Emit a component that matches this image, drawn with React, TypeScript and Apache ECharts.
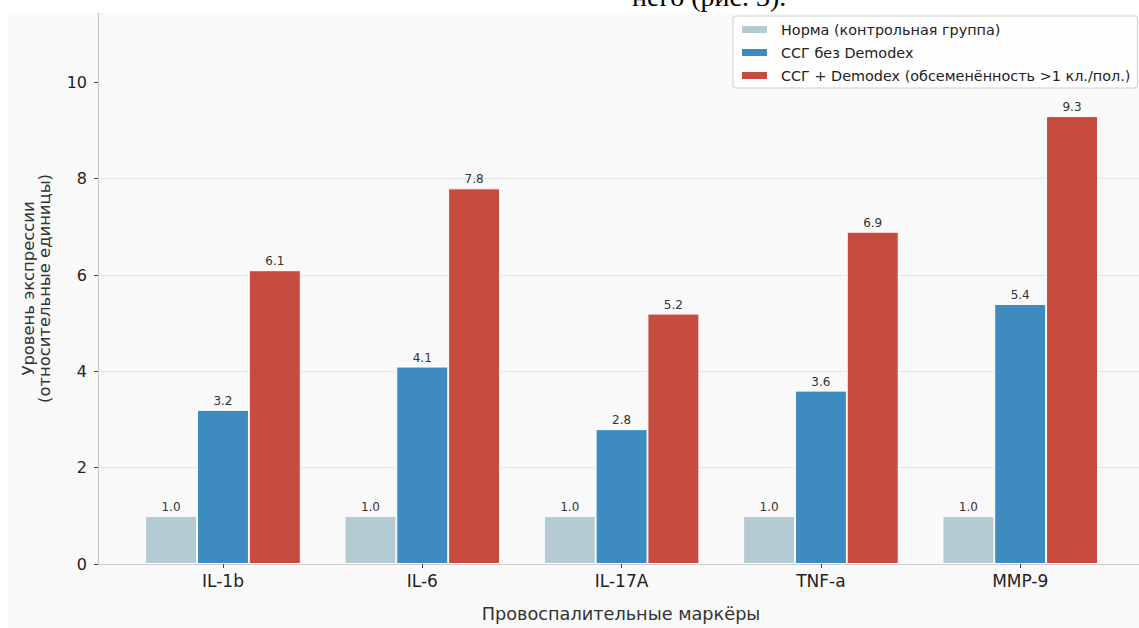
import React, { useEffect, useRef } from "react";
import * as echarts from "echarts";

const categories = ["IL-1b", "IL-6", "IL-17A", "TNF-a", "MMP-9"];
const seriesNames = [
  "Норма (контрольная группа)",
  "ССГ без Demodex",
  "ССГ + Demodex (обсеменённость >1 кл./пол.)",
];
const normValues = [1.0, 1.0, 1.0, 1.0, 1.0];
const noDemodexValues = [3.2, 4.1, 2.8, 3.6, 5.4];
const demodexValues = [6.1, 7.8, 5.2, 6.9, 9.3];
const yTicks = [0, 2, 4, 6, 8, 10];
const xTickPositions = [0, 1, 2, 3, 4];

const colors = ["#b5cbd3", "#3e8cbf", "#c64c40"];
const offsets = [-0.26, 0, 0.26];
const FONT = "DejaVu Sans";

export default function App() {
  const ref = useRef<HTMLDivElement>(null);
  useEffect(() => {
    if (!ref.current) return;
    const chart = echarts.init(ref.current, undefined, { renderer: "svg" });
    const all = [normValues, noDemodexValues, demodexValues];
    const series = all.map((vals, s) => ({
      name: seriesNames[s],
      type: "bar",
      barWidth: 52,
      barGap: "-100%",
      data: vals.map((v, i) => [i + offsets[s], v]),
      itemStyle: { color: colors[s], borderColor: "#ffffff", borderWidth: 1 },
      label: {
        show: true,
        position: "top",
        distance: 3,
        fontSize: 12,
        fontFamily: FONT,
        color: "#333333",
        formatter: (p: any) => Number(p.value[1]).toFixed(1),
      },
    }));
    chart.setOption({
      animation: false,
      backgroundColor: "#ffffff",
      color: colors,
      graphic: [
        {
          type: "rect",
          z: -10,
          silent: true,
          shape: { x: 8, y: 13, width: 1131, height: 615 },
          style: { fill: "#f9f9f9" },
        },
        {
          type: "text",
          z: 10,
          silent: true,
          x: 632,
          y: -4,
          style: {
            text: "него (рис. 3).",
            fontFamily: "Liberation Serif",
            fontSize: 28,
            fill: "#000000",
            verticalAlign: "middle",
            align: "left",
          },
        },
      ],
      grid: { left: 98, top: 13, right: 0, bottom: 61, containLabel: false },
      legend: {
        orient: "vertical",
        left: 733,
        top: 16,
        padding: [5, 7, 4, 7],
        itemWidth: 27,
        itemHeight: 9,
        itemGap: 6,
        icon: "rect",
        backgroundColor: "rgba(255,255,255,0.85)",
        borderColor: "#d0d0d0",
        borderWidth: 1,
        borderRadius: 3,
        textStyle: {
          fontSize: 14.4,
          fontFamily: FONT,
          color: "#222222",
          padding: [0, 0, 0, 8],
          lineHeight: 17,
        },
        data: seriesNames,
      },
      xAxis: {
        type: "value",
        min: -0.627,
        max: 4.596,
        name: "Провоспалительные маркёры",
        nameLocation: "middle",
        nameGap: 41,
        nameTextStyle: {
          fontSize: 17.7,
          fontFamily: FONT,
          color: "#333333",
          padding: [0, 0, 0, 5],
        },
        axisLine: {
          show: true,
          onZero: false,
          lineStyle: { color: "#cccccc", width: 1.2 },
        },
        axisTick: {
          show: true,
          length: 4,
          customValues: xTickPositions,
          lineStyle: { color: "#444444" },
        },
        axisLabel: {
          customValues: xTickPositions,
          fontSize: 17,
          fontFamily: FONT,
          color: "#222222",
          margin: 8,
          formatter: (v: number) => categories[Math.round(v)] ?? "",
        },
        splitLine: { show: false },
      },
      yAxis: {
        type: "value",
        min: 0,
        max: 11.44,
        interval: 2,
        name: "Уровень экспрессии\n(относительные единицы)",
        nameLocation: "middle",
        nameGap: 46,
        nameRotate: 90,
        nameTextStyle: {
          fontSize: 16.4,
          fontFamily: FONT,
          color: "#333333",
          lineHeight: 16,
          align: "center",
        },
        axisLine: {
          show: true,
          onZero: false,
          lineStyle: { color: "#cccccc", width: 1.2 },
        },
        axisTick: {
          show: true,
          length: 4,
          customValues: yTicks,
          lineStyle: { color: "#444444" },
        },
        axisLabel: {
          customValues: yTicks,
          fontSize: 16,
          fontFamily: FONT,
          color: "#222222",
          margin: 11,
        },
        splitLine: {
          show: true,
          showMaxLine: false,
          lineStyle: { color: "#e6e6e6", width: 1 },
        },
      },
      series,
    });
    return () => chart.dispose();
  }, []);
  return (
    <div
      ref={ref}
      style={{ position: "absolute", left: 0, top: 0, width: 1139, height: 628 }}
    />
  );
}
